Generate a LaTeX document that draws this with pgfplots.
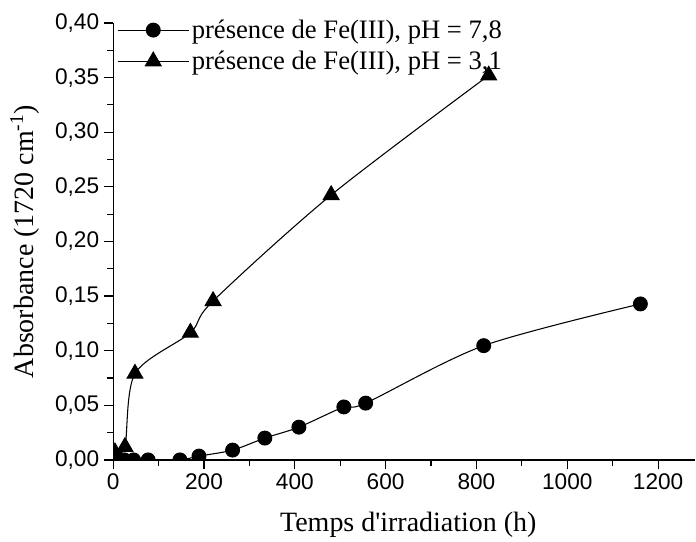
\documentclass[border=0pt]{standalone}
\usepackage{fontspec}
\setmainfont{Liberation Serif}
\setsansfont{Liberation Sans}
\usepackage{pgfplots}
\pgfplotsset{compat=1.18}
\begin{document}
\begin{tikzpicture}
\begin{axis}[
    width=437pt, height=328pt, scale only axis,
    xmin=0, xmax=1282, ymin=0, ymax=0.40,
    axis lines*=left,
    axis line style={line width=1pt},
    clip marker paths=true,
    tick align=outside,
    major tick length=7pt, minor tick length=4.5pt,
    every tick/.style={black, line width=0.9pt},
    xtick={0,200,400,600,800,1000,1200}, minor x tick num=1,
    ytick={0,0.05,0.10,0.15,0.20,0.25,0.30,0.35,0.40}, minor y tick num=1,
    scaled y ticks=false,
    /pgf/number format/assume math mode=true,
    /pgf/number format/use comma,
    /pgf/number format/1000 sep={},
    yticklabel style={/pgf/number format/fixed, /pgf/number format/fixed zerofill, /pgf/number format/precision=2},
    ticklabel style={font=\sffamily\fontsize{17}{20}\selectfont},
    xlabel={Temps d\textquotesingle irradiation (h)},
    ylabel={Absorbance (1720 cm\textsuperscript{-1})},
    label style={font=\fontsize{21}{25}\selectfont},
    xlabel style={at={(axis description cs:0.507,-0.148)}, anchor=center},
    ylabel style={at={(axis description cs:-0.152,0.5)}, anchor=center},
    legend style={at={(axis description cs:0.0,1.02)}, anchor=north west,
        draw=none, fill=none, font=\fontsize{20}{24}\selectfont, row sep=4pt},
    legend cell align=left,
    legend image code/.code={
        \draw[mark repeat=2, mark phase=2] plot coordinates {(0pt,0pt) (26.5pt,0pt) (53pt,0pt)};},
]
\addplot[black, line width=0.8pt, smooth, mark=*, mark size=5.2pt, mark options={solid, fill=black}]
coordinates {
    (5,0) (25,0) (45,0) (77,0) (147,0) (189,0.0035) (263,0.009) (334,0.020)
    (409,0.030) (508,0.0485) (556,0.052) (816,0.1046) (1161,0.1428)
};
\addlegendentry{présence de Fe(III), pH = 7,8}
\addplot[black, line width=0.8pt, smooth, mark=triangle*, mark size=6.8pt, mark options={solid, fill=black}]
coordinates {
    (4,0.007) (26,0.012) (48,0.079) (170,0.1165) (220,0.1455) (480,0.2425) (827,0.352)
};
\addlegendentry{présence de Fe(III), pH = 3,1}
\coordinate (bl) at (axis description cs:-0.1944,-0.1831);
\coordinate (tr) at (axis description cs:1,1.0526);
\end{axis}
\path (bl) rectangle (tr);
\end{tikzpicture}
\end{document}
